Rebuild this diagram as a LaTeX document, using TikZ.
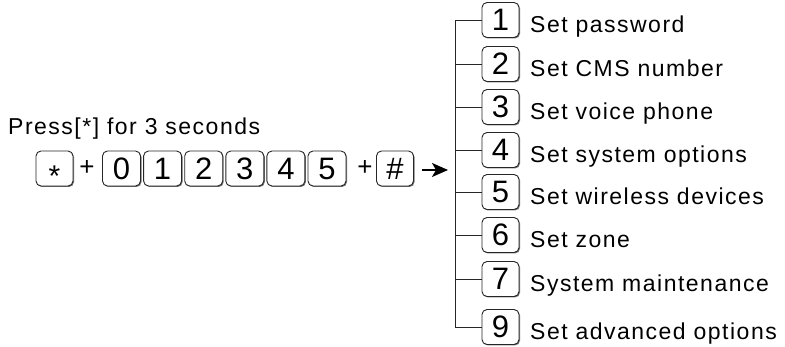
\documentclass[tikz,border=0pt]{standalone}
\usepackage{fontspec}
\setmainfont{Liberation Sans}[LetterSpace=6.5]
\usetikzlibrary{shadows,arrows.meta}
\begin{document}
\begin{tikzpicture}[x=1pt,y=-1pt,
  key/.style={draw=black!85, line width=0.9pt, rounded corners=5pt, fill=white,
    minimum width=37pt, minimum height=35pt, inner sep=0pt,
    text height=21.5pt, text depth=0pt, font=\fontsize{31}{31}\selectfont,
    drop shadow={shadow xshift=1pt,shadow yshift=-1pt,fill=black!55,opacity=1}},
  lbl/.style={anchor=base west, inner sep=0pt, font=\fontsize{23}{28}\selectfont},
  plus/.style={inner sep=0pt, font=\fontsize{26}{26}\selectfont},
  conn/.style={line width=0.8pt, draw=black!85},
  arr/.style={line width=1.5pt, -{Stealth[length=16pt,width=14pt,inset=4pt]}}]
\useasboundingbox (0,0) rectangle (785,347);
\node[lbl] (press) at (8,135) {Press[*] for 3 seconds};
\node[key] (kstar) at (54.5,168.5) {\raisebox{-7pt}{\fontsize{30}{30}\selectfont *}};
\node[plus] (p1) at (87,168) {+};
\node[key,minimum width=38pt] (k0) at (121.5,168.5) {0};
\node[key,minimum width=38pt] (k1) at (162.6,168.5) {1};
\node[key,minimum width=38pt] (k2) at (203.7,168.5) {2};
\node[key,minimum width=38pt] (k3) at (244.8,168.5) {3};
\node[key,minimum width=38pt] (k4) at (285.9,168.5) {4};
\node[key,minimum width=38pt] (k5) at (327,168.5) {5};
\node[plus] (p2) at (365,168) {+};
\node[key] (kh) at (395,168.5) {\#};
\coordinate (spine) at (455,0);
\coordinate (arend) at (448,170);
\draw[arr] ([xshift=8pt,yshift=-1.5pt]kh.east) -- (arend);
\foreach \n/\y/\t in {1/20/Set password, 2/64/Set CMS number, 3/107/Set voice phone,
  4/150/Set system options, 5/192/Set wireless devices, 6/235/Set zone,
  7/279/System maintenance, 9/327/Set advanced options}{
  \node[key] (b\n) at (500.5,\y) {\n};
  \node[lbl] (t\n) at (530,\y+13) {\t};
  \draw[conn] (b\n.west) -- (b\n.west -| spine);
}
\draw[conn] (b1.west -| spine) -- (b9.west -| spine);
\end{tikzpicture}
\end{document}
